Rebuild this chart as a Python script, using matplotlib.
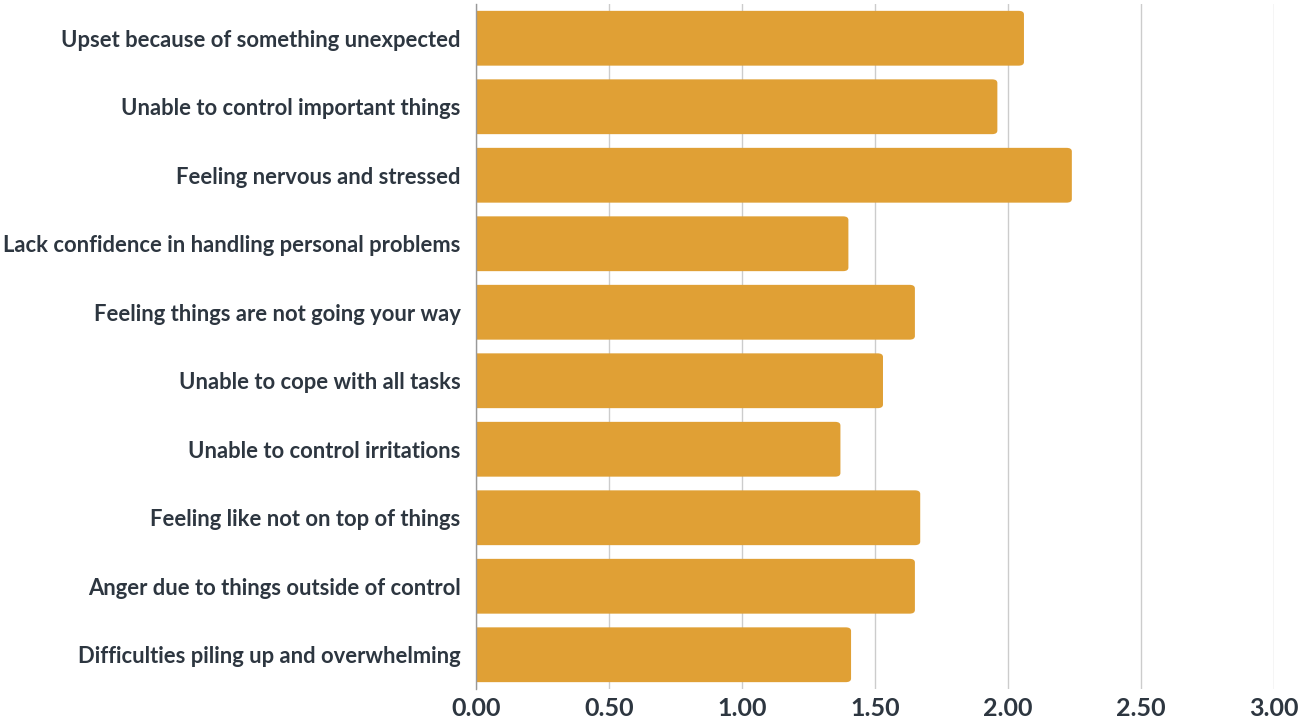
import matplotlib.pyplot as plt
from matplotlib.patches import FancyBboxPatch

# Stress items and their average scores
items = [
    'Upset because of something unexpected',
    'Unable to control important things',
    'Feeling nervous and stressed',
    'Lack confidence in handling personal problems',
    'Feeling things are not going your way',
    'Unable to cope with all tasks',
    'Unable to control irritations',
    'Feeling like not on top of things',
    'Anger due to things outside of control',
    'Difficulties piling up and overwhelming',
]
scores = [2.06, 1.96, 2.24, 1.40, 1.65, 1.53, 1.37, 1.67, 1.65, 1.41]
tick_values = [0.0, 0.5, 1.0, 1.5, 2.0, 2.5, 3.0]

bar_color = '#E0A035'
text_color = '#2D3640'

plt.rcParams['font.family'] = ['Lato', 'DejaVu Sans']

fig = plt.figure(figsize=(13.13, 7.18), dpi=100)
ax = fig.add_axes([476 / 1313, 1 - 689 / 718, (1274 - 476) / 1313, (689 - 4) / 718])

ypos = list(range(len(items)))
bars = ax.barh(ypos, scores, height=0.8, color=bar_color)

# swap the plain rectangles for ones with rounded right corners;
# start them left of zero so the axes clip the left rounding away
for b in bars:
    x0, y0 = b.get_x(), b.get_y()
    w, h = b.get_width(), b.get_height()
    b.set_visible(False)
    patch = FancyBboxPatch((x0 - 0.1, y0), w + 0.1, h,
                           boxstyle='round,pad=0,rounding_size=0.02',
                           mutation_aspect=2.6,
                           facecolor=bar_color, edgecolor='none', zorder=2)
    ax.add_patch(patch)

ax.set_xlim(0, 3.0)
ax.set_ylim(len(items) - 0.5, -0.5)
ax.set_xticks(tick_values)
ax.set_xticklabels([f'{v:.2f}' for v in tick_values])
ax.set_yticks(ypos)
ax.set_yticklabels(items)

ax.grid(axis='x', color='#CCCCCC', linewidth=1, zorder=0)
ax.set_axisbelow(True)
for side in ['top', 'right', 'bottom']:
    ax.spines[side].set_visible(False)
ax.spines['left'].set_color('#999999')
ax.spines['left'].set_linewidth(1)
ax.spines['left'].set_zorder(3)

ax.tick_params(axis='y', length=0, pad=11, labelsize=15.8, labelcolor=text_color)
ax.tick_params(axis='x', length=0, pad=6, labelsize=18, labelcolor=text_color)
for lbl in ax.get_yticklabels() + ax.get_xticklabels():
    lbl.set_fontweight('bold')

fig.savefig('out.png', dpi=100)
